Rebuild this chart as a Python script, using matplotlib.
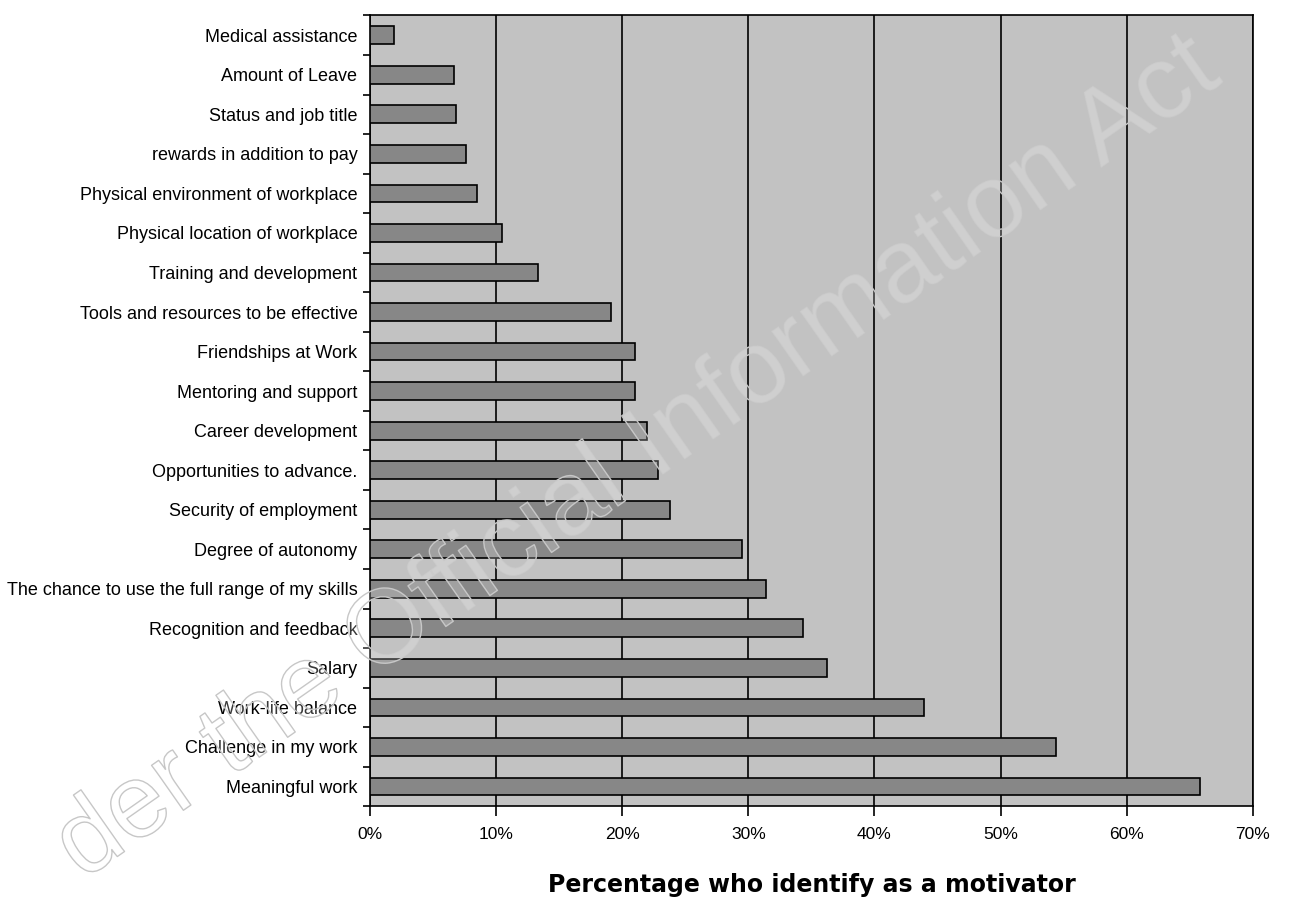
import matplotlib
matplotlib.use("Agg")
import matplotlib.pyplot as plt
import matplotlib.patheffects as pe
from matplotlib.ticker import FixedLocator, FuncFormatter
import numpy as np

# categories listed top to bottom as in the chart
categories = [
    "Medical assistance",
    "Amount of Leave",
    "Status and job title",
    "rewards in addition to pay",
    "Physical environment of workplace",
    "Physical location of workplace",
    "Training and development",
    "Tools and resources to be effective",
    "Friendships at Work",
    "Mentoring and support",
    "Career development",
    "Opportunities to advance.",
    "Security of employment",
    "Degree of autonomy",
    "The chance to use the full range of my skills",
    "Recognition and feedback",
    "Salary",
    "Work-life balance",
    "Challenge in my work",
    "Meaningful work",
]
# percentage who identify as a motivator
values = [1.9, 6.7, 6.8, 7.6, 8.5, 10.5, 13.3, 19.1, 21.0, 21.0,
          22.0, 22.8, 23.8, 29.5, 31.4, 34.3, 36.2, 43.9, 54.4, 65.8]
x_ticks = [0, 10, 20, 30, 40, 50, 60, 70]
x_label = "Percentage who identify as a motivator"
# visible part of the scan watermark
watermark = "der the Official Information Act"

plt.rcParams['font.family'] = ['Liberation Sans', 'DejaVu Sans']

fig = plt.figure(figsize=(12.89, 9.10), dpi=100)
ax = fig.add_axes([0.287, 0.114, 0.685, 0.869])
ax.set_facecolor('#c2c2c2')

pos = np.arange(len(categories))
ax.barh(pos, values, height=0.45, color='#878787', edgecolor='black',
        linewidth=1.2, zorder=3)

ax.set_xlim(0, 70)
ax.set_ylim(len(categories) - 0.5, -0.5)
ax.set_xticks(x_ticks)
ax.xaxis.set_major_formatter(FuncFormatter(lambda v, p: f"{int(v)}%"))
ax.xaxis.grid(True, color='black', linewidth=1.2, zorder=1)
ax.set_axisbelow(True)

ax.set_yticks(pos)
ax.set_yticklabels(categories)
ax.yaxis.set_minor_locator(FixedLocator(np.arange(-0.5, len(categories), 1)))
ax.tick_params(axis='y', which='major', length=0, pad=9, labelsize=13)
ax.tick_params(axis='y', which='minor', length=5, width=1.2, direction='out')
ax.tick_params(axis='x', which='major', length=7, width=1.2, direction='out',
               pad=8, labelsize=12.5)

for s in ax.spines.values():
    s.set_linewidth(1.2)
    s.set_color('black')

ax.set_xlabel(x_label, fontsize=17, fontweight='bold',
              family=['DejaVu Sans'], labelpad=22)

# faint outlined watermark across the page
fig.text(0.495, 0.495, watermark, fontsize=75, rotation=35,
         ha='center', va='center', color=(1, 1, 1, 0.12), zorder=10,
         path_effects=[pe.Stroke(linewidth=1.0, foreground='#c4c4c4'),
                       pe.Normal()])

fig.savefig("out.png", dpi=100, facecolor='white')
